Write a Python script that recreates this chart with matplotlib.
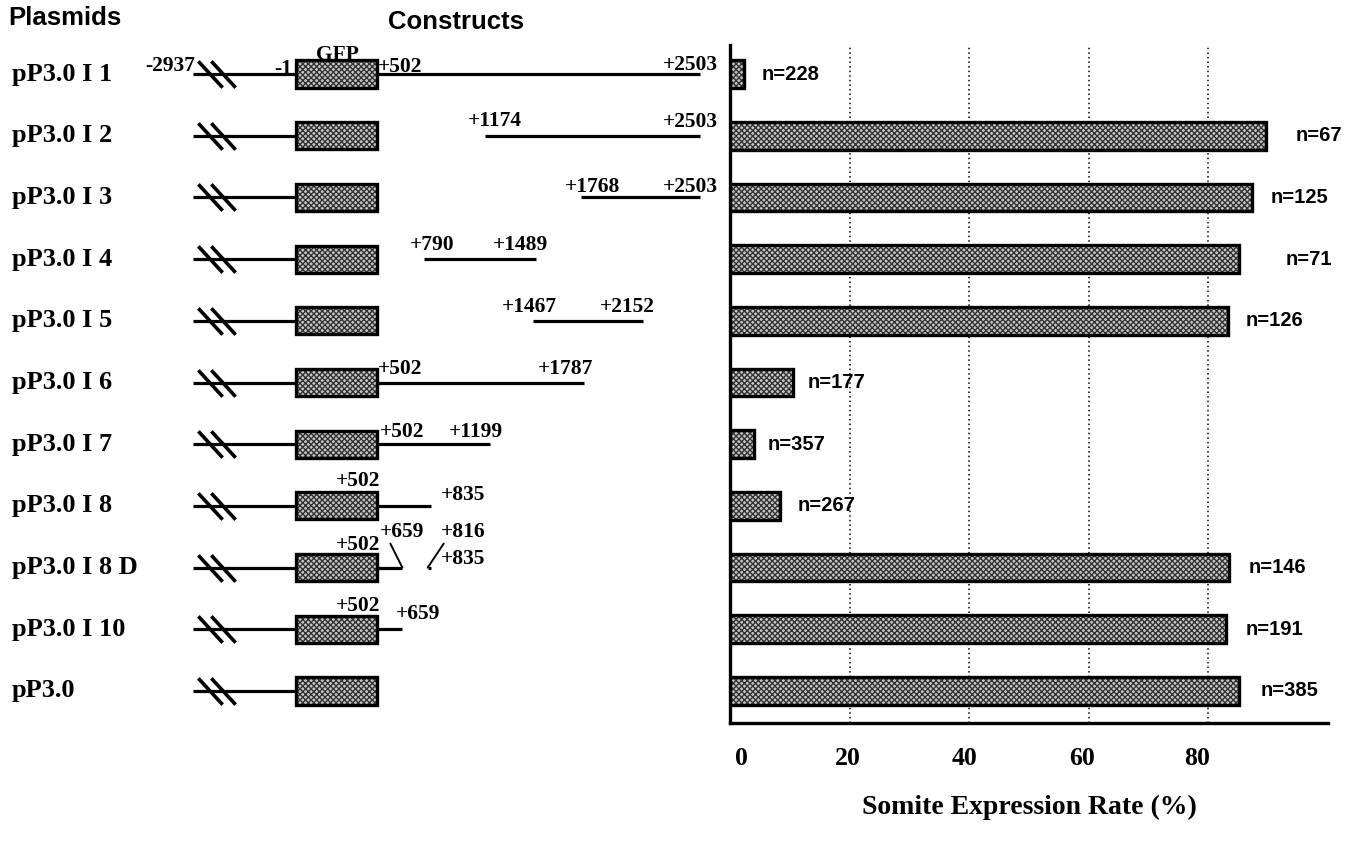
import matplotlib
matplotlib.use("Agg")
import matplotlib.pyplot as plt
from matplotlib.patches import Rectangle
from matplotlib.path import Path
from matplotlib import transforms

# ---------------- data ----------------
plasmids = ['pP3.0 I 1', 'pP3.0 I 2', 'pP3.0 I 3', 'pP3.0 I 4', 'pP3.0 I 5',
            'pP3.0 I 6', 'pP3.0 I 7', 'pP3.0 I 8', 'pP3.0 I 8 D', 'pP3.0 I 10',
            'pP3.0']
rates = [2.3, 89.7, 87.3, 85.2, 83.2, 10.5, 4.0, 8.3, 83.5, 83.0, 85.2]
n_counts = [228, 67, 125, 71, 126, 177, 357, 267, 146, 191, 385]

gfp_start, gfp_end = -1, 502
upstream_label = '-2937'
segments = [
    [(502, 2503)],
    [(1174, 2503)],
    [(1768, 2503)],
    [(790, 1489)],
    [(1467, 2152)],
    [(502, 1787)],
    [(502, 1199)],
    [(502, 835)],
    [(502, 659), (816, 835)],
    [(502, 659)],
    [],
]
xticks = [0, 20, 40, 60, 80]

# ---------------- layout ----------------
W, H = 1350, 850
fig = plt.figure(figsize=(13.5, 8.5), dpi=100)
ax_top, ax_bot = 45, 723
ax_left, ax_right = 730, 1328
row_px = 61.7
ylim = (10 + (ax_bot - 691) / row_px, -(74 - ax_top) / row_px)

ax = fig.add_axes([ax_left / W, 1 - ax_bot / H, (ax_right - ax_left) / W, (ax_bot - ax_top) / H])
axl = fig.add_axes([0, 1 - ax_bot / H, ax_left / W, (ax_bot - ax_top) / H])

scale = 0.1614   # px per bp
px0 = 296        # px of bp 0
axl.set_xlim(-px0 / scale, (ax_left - px0) / scale)
axl.set_ylim(*ylim)
axl.axis('off')

serif = 'Liberation Serif'
sans = 'Liberation Sans'
rows = list(range(len(plasmids)))

# ---------------- left: constructs ----------------
up_start = (193 - px0) / scale
break_x = [(210 - px0) / scale, (223 - px0) / scale]
slash = Path([(-0.46, 0.5), (0.46, -0.5)], [Path.MOVETO, Path.LINETO])
box_h = 0.44
lw_line = 2.3

for r in rows:
    axl.plot([up_start, gfp_start], [r, r], color='black', lw=lw_line,
             solid_capstyle='butt', zorder=2)
    axl.plot(break_x, [r, r], linestyle='none', marker=slash, markersize=19,
             markeredgewidth=2.6, color='black', zorder=3)
    axl.add_patch(Rectangle((gfp_start, r - box_h / 2), gfp_end - gfp_start, box_h,
                            facecolor='#c8c8c8', edgecolor='#333333', hatch='xxxxxx',
                            lw=0, zorder=3))
    axl.add_patch(Rectangle((gfp_start, r - box_h / 2), gfp_end - gfp_start, box_h,
                            fill=False, edgecolor='black', lw=2.4, zorder=4))
    for s, e in segments[r]:
        axl.plot([s, e], [r, r], color='black', lw=lw_line,
                 solid_capstyle='butt', zorder=2)

# labels: (row, text, anchor x, ha, dx px, dy px up)
labels = [
    (0, upstream_label, up_start, 'right', 2, 8),
    (0, '-1', gfp_start, 'center', -13, 5),
    (0, 'GFP', (gfp_start + gfp_end) / 2, 'center', 1, 19),
    (0, '+502', 502, 'left', 1, 7),
    (0, '+2503', 2503, 'right', 18, 9),
    (1, '+1174', 1174, 'center', 9, 15),
    (1, '+2503', 2503, 'right', 18, 14),
    (2, '+1768', 1768, 'center', 11, 10),
    (2, '+2503', 2503, 'right', 18, 10),
    (3, '+790', 790, 'center', 9, 14),
    (3, '+1489', 1489, 'center', -16, 14),
    (4, '+1467', 1467, 'center', -3, 14),
    (4, '+2152', 2152, 'center', -16, 14),
    (5, '+502', 502, 'left', 1, 13),
    (5, '+1787', 1787, 'center', -19, 13),
    (6, '+502', 502, 'left', 3, 12),
    (6, '+1199', 1199, 'center', -14, 12),
    (7, '+502', 502, 'center', -19, 25),
    (7, '+835', 835, 'center', 32, 11),
    (8, '+502', 502, 'center', -19, 23),
    (8, '+659', 659, 'center', 0, 36),
    (8, '+816', 816, 'center', 35, 36),
    (8, '+835', 835, 'center', 32, 9),
    (9, '+502', 502, 'center', -19, 23),
    (9, '+659', 659, 'center', 16, 15),
]
for r, t, x, ha, dx, dy in labels:
    axl.annotate(t, xy=(x, r), xytext=(dx, dy), textcoords='offset pixels',
                 ha=ha, va='center', fontsize=15.5, fontweight='bold',
                 family=serif, annotation_clip=False)

# leader lines in row 8
for x, dx, dy in [(659, -12, 24), (816, 16, 24)]:
    axl.annotate('', xy=(x, 8), xytext=(dx, dy), textcoords='offset pixels',
                 arrowprops=dict(arrowstyle='-', lw=1.4, color='black',
                                 shrinkA=0, shrinkB=0))

# plasmid names
tr = transforms.blended_transform_factory(fig.transFigure, axl.transData)
for r, name in zip(rows, plasmids):
    axl.text(12 / W, r, name, transform=tr, ha='left', va='center',
             fontsize=19, fontweight='bold', family=serif)

fig.text(8 / W, 1 - 18 / H, 'Plasmids', ha='left', va='center',
         fontsize=18.5, fontweight='bold', family=sans)
fig.text(388 / W, 1 - 22 / H, 'Constructs', ha='left', va='center',
         fontsize=18.5, fontweight='bold', family=sans)

# ---------------- right: bars ----------------
bar_h = 0.45
ax.barh(rows, rates, height=bar_h, color='#c8c8c8', edgecolor='#333333',
        hatch='xxxxxx', linewidth=0, zorder=3)
ax.barh(rows, rates, height=bar_h, fill=False, edgecolor='black',
        linewidth=2.4, zorder=4)
n_gap_px = [18, 29, 19, 46, 18, 15, 14, 18, 19, 19, 21]
for r, v, n, g in zip(rows, rates, n_counts, n_gap_px):
    ax.annotate(f'n={n}', xy=(v, r), xytext=(g, 0), textcoords='offset pixels',
                ha='left', va='center', fontsize=14.5, fontweight='bold',
                family=sans, zorder=5)

ax.set_xlim(0, 100)
ax.set_ylim(*ylim)
ax.set_yticks([])
ax.set_xticks(xticks)
ax.set_xticklabels([str(t) for t in xticks], fontsize=18.5,
                   fontweight='bold', family=serif)
ax.tick_params(axis='x', length=0, pad=17)
tick_shift_px = [11, -2, -5, -7, -11]
for lab, s in zip(ax.get_xticklabels(), tick_shift_px):
    lab.set_transform(lab.get_transform() +
                      transforms.ScaledTranslation(s / 100, 0, fig.dpi_scale_trans))
ax.xaxis.grid(True, linestyle=(0, (1, 2)), color='black', lw=1.1, zorder=0)
ax.set_axisbelow(True)
for sp in ['top', 'right']:
    ax.spines[sp].set_visible(False)
for sp in ['left', 'bottom']:
    ax.spines[sp].set_linewidth(2.4)
ax.set_xlabel('Somite Expression Rate (%)', fontsize=20, fontweight='bold',
              family=serif, labelpad=18)

fig.savefig('out.png', dpi=100)
